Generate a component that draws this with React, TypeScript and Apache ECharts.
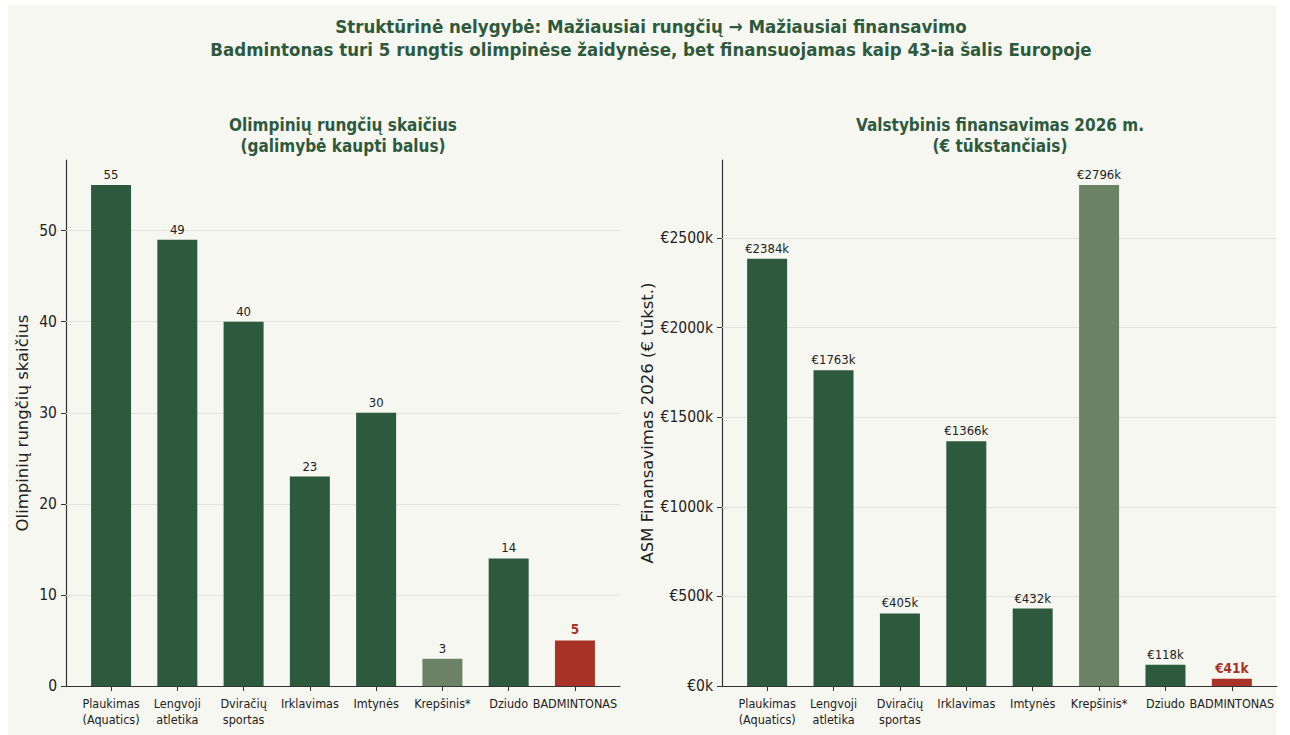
import React, { useEffect, useRef } from "react";
import * as echarts from "echarts";

const categories = [
  "Plaukimas\n(Aquatics)",
  "Lengvoji\natletika",
  "Dviračių\nsportas",
  "Irklavimas",
  "Imtynės",
  "Krepšinis*",
  "Dziudo",
  "BADMINTONAS",
];
const olympicEvents = [55, 49, 40, 23, 30, 3, 14, 5];
const funding2026 = [2384, 1763, 405, 1366, 432, 2796, 118, 41];
const eventTicks = [0, 10, 20, 30, 40, 50];
const fundingTicks = [0, 500, 1000, 1500, 2000, 2500];

const mainTitle =
  "Struktūrinė nelygybė: Mažiausiai rungčių → Mažiausiai finansavimo\nBadmintonas turi 5 rungtis olimpinėse žaidynėse, bet finansuojamas kaip 43-ia šalis Europoje";
const leftTitle = "Olimpinių rungčių skaičius\n(galimybė kaupti balus)";
const rightTitle = "Valstybinis finansavimas 2026 m.\n(€ tūkstančiais)";
const leftYName = "Olimpinių rungčių skaičius";
const rightYName = "ASM Finansavimas 2026 (€ tūkst.)";

const FONT = "'DejaVu Sans Condensed', 'DejaVu Sans', sans-serif";
const FONT_WIDE = "'DejaVu Sans', sans-serif";
const GREEN = "#2d5a3d";
const MUTED = "#6b8264";
const RED = "#a93226";
const TEXT = "#222222";
const AXIS = "#333333";

function barColor(name: string) {
  if (name === "BADMINTONAS") return RED;
  if (name.startsWith("Krepšinis")) return MUTED;
  return GREEN;
}

function buildData(values: number[], fmt: (v: number) => string) {
  return values.map((v, i) => {
    const name = categories[i];
    const isHighlight = name === "BADMINTONAS";
    return {
      value: [i, v],
      itemStyle: { color: barColor(name) },
      label: {
        show: true,
        position: "top",
        distance: 4,
        formatter: () => fmt(v),
        color: isHighlight ? RED : TEXT,
        fontWeight: isHighlight ? "bold" : "normal",
        fontSize: isHighlight ? 13.5 : 13,
        fontFamily: FONT,
      },
    };
  });
}

const catIdx = categories.map((_, i) => i);

function xAxisFor(gridIndex: number) {
  return {
    type: "value",
    gridIndex,
    min: -0.68,
    max: 7.68,
    splitLine: { show: false },
    axisLine: { show: true, onZero: false, lineStyle: { color: AXIS, width: 1.2 } },
    axisTick: { show: true, length: 5, customValues: catIdx, lineStyle: { color: AXIS } },
    axisLabel: {
      customValues: catIdx,
      formatter: (v: number) => categories[Math.round(v)] ?? "",
      fontSize: 12.5,
      lineHeight: 16,
      color: TEXT,
      fontFamily: FONT,
      margin: 9,
      hideOverlap: false,
    },
  };
}

function yAxisFor(gridIndex: number, max: number, ticks: number[], name: string, nameGap: number, fmt: (v: number) => string) {
  return {
    type: "value",
    gridIndex,
    min: 0,
    max,
    name,
    nameLocation: "middle",
    nameRotate: 90,
    nameGap,
    nameTextStyle: { fontSize: 16.5, color: TEXT, fontFamily: FONT_WIDE },
    splitLine: { show: false },
    axisLine: { show: true, onZero: false, lineStyle: { color: AXIS, width: 1.2 } },
    axisTick: { show: true, length: 5, customValues: ticks, lineStyle: { color: AXIS } },
    axisLabel: {
      customValues: ticks,
      formatter: fmt,
      fontSize: 15.5,
      color: TEXT,
      fontFamily: FONT,
      margin: 9,
    },
  };
}

function gridLines(ticks: number[]) {
  return {
    silent: true,
    symbol: "none",
    z: 1,
    label: { show: false },
    lineStyle: { color: "#e2e2de", width: 1, type: "solid" },
    data: ticks.filter((t) => t > 0).map((t) => ({ yAxis: t })),
  };
}

export default function App() {
  const ref = useRef<HTMLDivElement>(null);
  useEffect(() => {
    if (!ref.current) return;
    const chart = echarts.init(ref.current, null, { renderer: "svg" });
    const eur = (v: number) => "€" + v + "k";
    chart.setOption({
      animation: false,
      backgroundColor: "#ffffff",
      textStyle: { fontFamily: FONT },
      graphic: [
        {
          type: "rect",
          z: -100,
          shape: { x: 8, y: 5, width: 1268, height: 730 },
          style: { fill: "#f7f7f2" },
        },
        {
          type: "text",
          x: 651,
          y: 15,
          style: {
            text: mainTitle,
            textAlign: "center",
            textVerticalAlign: "top",
            font: "bold 18.5px " + FONT,
            lineHeight: 23,
            fill: GREEN,
          },
        },
        {
          type: "text",
          x: 343,
          y: 114,
          style: {
            text: leftTitle,
            textAlign: "center",
            textVerticalAlign: "top",
            font: "bold 17px " + FONT,
            lineHeight: 21,
            fill: GREEN,
          },
        },
        {
          type: "text",
          x: 1000,
          y: 114,
          style: {
            text: rightTitle,
            textAlign: "center",
            textVerticalAlign: "top",
            font: "bold 17px " + FONT,
            lineHeight: 21,
            fill: GREEN,
          },
        },
      ],
      grid: [
        { left: 66, top: 160, width: 554, height: 526 },
        { left: 722, top: 160, width: 555, height: 526 },
      ],
      xAxis: [xAxisFor(0), xAxisFor(1)],
      yAxis: [
        yAxisFor(0, 57.75, eventTicks, leftYName, 35, (v: number) => String(v)),
        yAxisFor(1, 2935.8, fundingTicks, rightYName, 66, eur),
      ],
      series: [
        {
          type: "bar",
          xAxisIndex: 0,
          yAxisIndex: 0,
          barWidth: 40,
          z: 2,
          data: buildData(olympicEvents, (v) => String(v)),
          markLine: gridLines(eventTicks),
        },
        {
          type: "bar",
          xAxisIndex: 1,
          yAxisIndex: 1,
          barWidth: 40,
          z: 2,
          data: buildData(funding2026, eur),
          markLine: gridLines(fundingTicks),
        },
      ],
    });
    return () => chart.dispose();
  }, []);
  return (
    <div
      ref={ref}
      style={{ position: "absolute", left: 0, top: 0, width: 1290, height: 735 }}
    />
  );
}
